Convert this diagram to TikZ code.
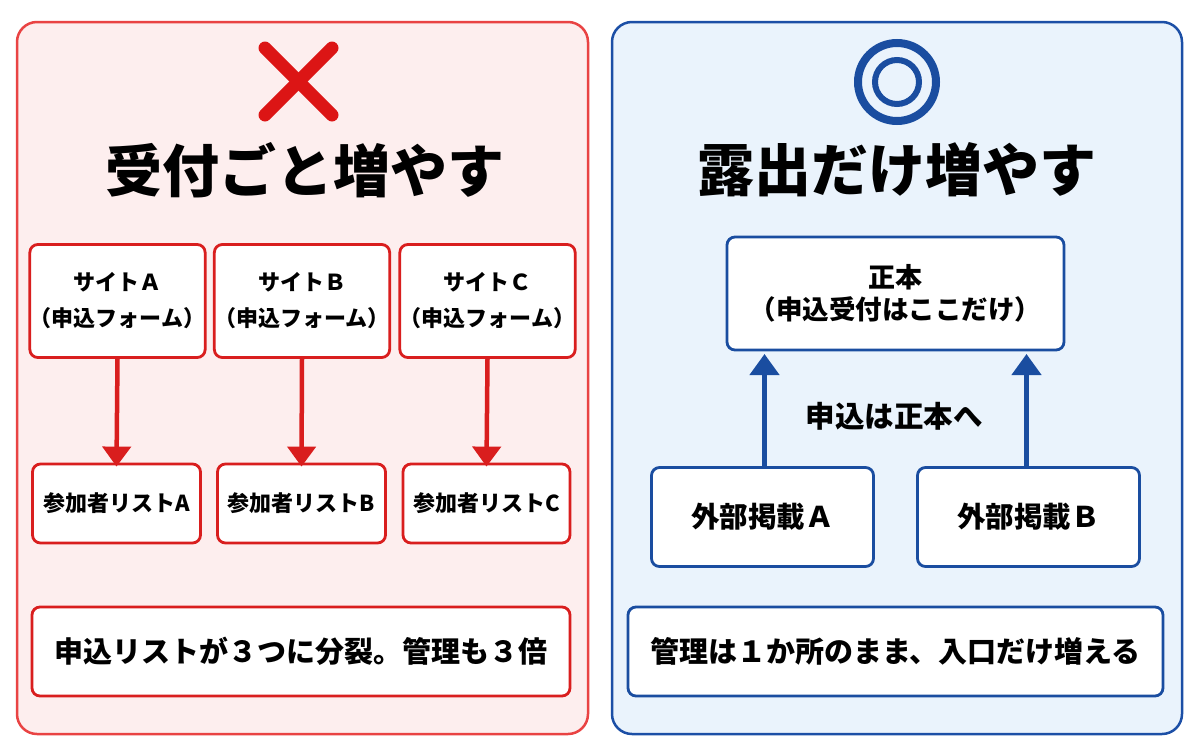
\documentclass[tikz,border=0pt]{standalone}
\usepackage{fontspec}
\setmainfont{Noto Sans CJK JP}
\usetikzlibrary{arrows.meta}
\definecolor{redborder}{HTML}{E94343}
\definecolor{redfill}{HTML}{FDEEEE}
\definecolor{redbox}{HTML}{D91E1E}
\definecolor{redmark}{HTML}{DC1515}
\definecolor{blueborder}{HTML}{1C4FA6}
\definecolor{bluefill}{HTML}{EAF3FC}
\definecolor{bluebox}{HTML}{1A4DA0}
\tikzset{
  panel/.style={line width=2.5pt, rounded corners=20pt},
  rbox/.style={draw=redbox, fill=white, line width=2.8pt, rounded corners=8pt, inner sep=0pt, align=center, font=\bfseries\fontsize{22pt}{36pt}\selectfont},
  bbox/.style={draw=bluebox, fill=white, line width=2.8pt, rounded corners=8pt, inner sep=0pt, align=center, font=\bfseries\fontsize{27pt}{38pt}\selectfont},
  rarrow/.style={draw=redbox, line width=4.5pt, -{Triangle[width=28pt,length=20pt]}},
  barrow/.style={draw=bluebox, line width=4.5pt, -{Triangle[width=29pt,length=21pt]}},
  title/.style={font=\bfseries\fontsize{57pt}{60pt}\selectfont, inner sep=0pt},
  note/.style={font=\bfseries\fontsize{29pt}{32pt}\selectfont, inner sep=0pt}
}
\begin{document}
\begin{tikzpicture}[x=1pt,y=-1pt]
\useasboundingbox (0,0) rectangle (1200,750);
% panels
\draw[panel, draw=redborder, fill=redfill] (17,22) rectangle (588,734);
\draw[panel, draw=blueborder, fill=bluefill] (612,22) rectangle (1182,734);

% X mark
\draw[redmark, line width=13pt, line cap=round] (265,48) -- (332,115);
\draw[redmark, line width=13pt, line cap=round] (332,48) -- (265,115);
\node[title] (ltitle) at (305,170) {受付ごと増やす};

% circle mark
\draw[bluebox, line width=8pt] (897,82) circle (39);
\draw[bluebox, line width=6pt] (897,82) circle (22);
\node[title] (rtitle) at (897,170) {露出だけ増やす};

% left boxes
\node[rbox, minimum width=167pt, minimum height=113pt] (sa) at (117.5,301) {サイトＡ\\（申込フォーム）};
\node[rbox, minimum width=167pt, minimum height=113pt] (sb) at (302,301) {サイトＢ\\（申込フォーム）};
\node[rbox, minimum width=167pt, minimum height=113pt] (sc) at (487.5,301) {サイトＣ\\（申込フォーム）};
\node[rbox, minimum width=168pt, minimum height=79pt] (la) at (116.5,503.5) {参加者リストA};
\node[rbox, minimum width=168pt, minimum height=79pt] (lb) at (301.5,503.5) {参加者リストB};
\node[rbox, minimum width=167pt, minimum height=79pt] (lc) at (486.5,503.5) {参加者リストC};
\draw[rarrow] (sa.south) -- ([yshift=-4pt]la.north);
\draw[rarrow] (sb.south) -- ([yshift=-4pt]lb.north);
\draw[rarrow] (sc.south) -- ([yshift=-4pt]lc.north);
\node[rbox, minimum width=538pt, minimum height=89pt, font=\bfseries\fontsize{29pt}{32pt}\selectfont] (lnote) at (301,651.5) {申込リストが３つに分裂。管理も３倍};

% right boxes
\node[bbox, minimum width=337pt, minimum height=113pt] (master) at (895.5,293.5) {正本\\[-6pt]{\fontsize{26.5pt}{30pt}\selectfont（申込受付はここだけ）}};
\node[bbox, minimum width=222pt, minimum height=99pt, font=\bfseries\fontsize{28.5pt}{32pt}\selectfont] (ea) at (762.5,517) {外部掲載Ａ};
\node[bbox, minimum width=222pt, minimum height=99pt, font=\bfseries\fontsize{28.5pt}{32pt}\selectfont] (eb) at (1028.5,517) {外部掲載Ｂ};
\coordinate (ta) at (764.5,354);
\coordinate (tb) at (1026.5,354);
\draw[barrow] (ea.north -| ta) -- (ta);
\draw[barrow] (eb.north -| tb) -- (tb);
\node[note, font=\bfseries\fontsize{29.5pt}{32pt}\selectfont] (flow) at (894,416) {申込は正本へ};
\node[bbox, minimum width=535pt, minimum height=89pt, font=\bfseries\fontsize{29pt}{32pt}\selectfont] (rnote) at (895.5,651.5) {管理は１か所のまま、入口だけ増える};
\end{tikzpicture}
\end{document}
